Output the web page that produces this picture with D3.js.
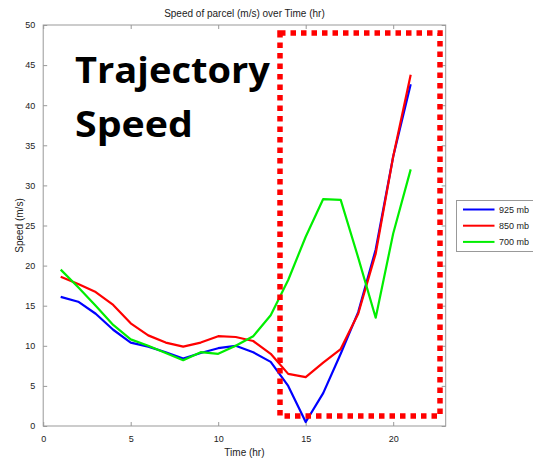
<!DOCTYPE html>
<html><head><meta charset="utf-8">
<script src="https://cdn.jsdelivr.net/npm/d3@7"></script>
<style>
html,body{margin:0;padding:0;background:#fff;overflow:hidden;}
svg{display:block;}
text{font-family:"Liberation Sans",Arial,sans-serif;}
</style></head><body>
<svg id="c" width="533" height="458"></svg>
<script>
const hours = [1,2,3,4,5,6,7,8,9,10,11,12,13,14,15,16,17,18,19,20,21];
const s925 = [16.1,15.5,14.0,12.0,10.4,9.9,9.2,8.4,9.1,9.7,10.0,9.2,8.0,5.0,0.5,4.1,9.0,14.2,22.0,33.6,42.6];
const s850 = [18.6,17.7,16.7,15.1,12.8,11.3,10.4,9.9,10.4,11.2,11.1,10.6,9.0,6.5,6.1,7.9,9.6,14.0,21.5,33.6,43.8];
const s700 = [19.5,17.3,15.0,12.6,10.8,10.0,9.1,8.2,9.2,9.0,10.0,11.2,13.8,18.2,23.6,28.3,28.2,21.0,13.5,24.0,32.0];
const seriesNames = ["925 mb","850 mb","700 mb"];
const seriesColors = ["#0000ff","#ff0000","#00ee00"];
const xTicks = [0,5,10,15,20];
const yTicks = [0,5,10,15,20,25,30,35,40,45,50];

const svg = d3.select("#c");
const L=43.2, R=445.7, T=25, B=426;
const x = d3.scaleLinear().domain([0,23]).range([L,R]);
const y = d3.scaleLinear().domain([0,50]).range([B,T]);
const axisCol = "#999";

// frame
svg.append("rect").attr("x",L).attr("y",T).attr("width",R-L).attr("height",B-T)
  .attr("fill","none").attr("stroke",axisCol).attr("stroke-width",1);

function styleAxis(g){
  g.select(".domain").remove();
  g.selectAll(".tick line").attr("stroke",axisCol);
  g.selectAll(".tick text").attr("fill","#222").style("font-size","9px")
   .style("font-family",'"Liberation Sans",Arial,sans-serif');
}
svg.append("g").attr("transform",`translate(0,${B})`)
  .call(d3.axisBottom(x).tickValues(xTicks).tickSize(-4).tickPadding(10).tickFormat(d3.format("d")))
  .call(styleAxis);
svg.append("g").attr("transform",`translate(0,${T})`)
  .call(d3.axisTop(x).tickValues(xTicks).tickSize(-4).tickFormat(""))
  .call(styleAxis);
svg.append("g").attr("transform",`translate(${L},0)`)
  .call(d3.axisLeft(y).tickValues(yTicks).tickSize(-4).tickPadding(8).tickFormat(d3.format("d")))
  .call(styleAxis);
svg.append("g").attr("transform",`translate(${R},0)`)
  .call(d3.axisRight(y).tickValues(yTicks).tickSize(-4).tickFormat(""))
  .call(styleAxis);

// titles
svg.append("text").attr("x",(L+R)/2).attr("y",17).attr("text-anchor","middle")
  .style("font-size","10px").attr("fill","#222").text("Speed of parcel (m/s) over Time (hr)");
svg.append("text").attr("x",(L+R)/2).attr("y",456).attr("text-anchor","middle")
  .style("font-size","10px").attr("fill","#222").text("Time (hr)");
svg.append("text").attr("transform",`translate(23,${(T+B)/2}) rotate(-90)`).attr("text-anchor","middle")
  .style("font-size","10px").attr("fill","#222").text("Speed (m/s)");

// lines
const all = [s925,s850,s700];
const line = d3.line().x((d,i)=>x(hours[i])).y(d=>y(d));
all.forEach((s,k)=>{
  svg.append("path").datum(s).attr("d",line).attr("fill","none")
    .attr("stroke",seriesColors[k]).attr("stroke-width",2.2).attr("stroke-linejoin","round");
});

// legend
const lg = svg.append("g");
lg.append("rect").attr("x",456.5).attr("y",200.5).attr("width",90).attr("height",51)
  .attr("fill","#fff").attr("stroke",axisCol).attr("stroke-width",1);
seriesNames.forEach((n,k)=>{
  const yy = 209.5 + k*16.2;
  lg.append("line").attr("x1",463).attr("x2",494.5).attr("y1",yy).attr("y2",yy)
    .attr("stroke",seriesColors[k]).attr("stroke-width",2);
  lg.append("text").attr("x",499).attr("y",yy+3.2).style("font-size","9px").attr("fill","#222").text(n);
});

// annotation text
svg.append("text").attr("x",75).attr("y",83).style("font-family","'Open Sans', Lato, sans-serif")
  .style("font-weight","bold").style("font-size","35px").attr("fill","#000")
  .attr("textLength",195).attr("lengthAdjust","spacingAndGlyphs").text("Trajectory");
svg.append("text").attr("x",75).attr("y",137).style("font-family","'Open Sans', Lato, sans-serif")
  .style("font-weight","bold").style("font-size","35px").attr("fill","#000")
  .attr("textLength",118).attr("lengthAdjust","spacingAndGlyphs").text("Speed");

// red dotted box
svg.append("rect").attr("x",280).attr("y",33).attr("width",160).attr("height",383)
  .attr("fill","none").attr("stroke","#ff0000").attr("stroke-width",5.5)
  .attr("stroke-dasharray","5.5 5");
</script>
</body></html>
